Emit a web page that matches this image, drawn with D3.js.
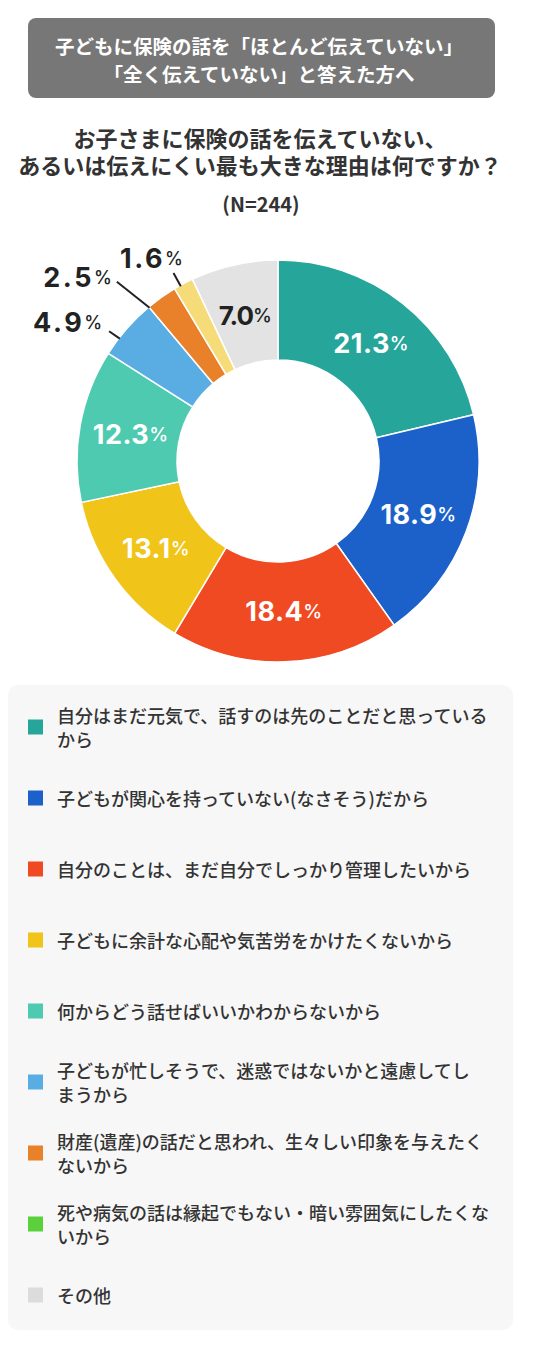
<!DOCTYPE html>
<html>
<head>
<meta charset="utf-8">
<script src="https://cdn.jsdelivr.net/npm/d3@7"></script>
<style>
  body { margin: 0; background: #fff; }
  text { font-family: "Noto Sans CJK JP", "Noto Sans", sans-serif; }
  text.num { font-family: Inter, Roboto, "Noto Sans", sans-serif; }
</style>
</head>
<body>
<div id="chart"></div>
<script>
// Data
const headerLines = ["子どもに保険の話を「ほとんど伝えていない」", "「全く伝えていない」と答えた方へ"];
const titleLines = ["お子さまに保険の話を伝えていない、", "あるいは伝えにくい最も大きな理由は何ですか？"];
const sampleLabel = "(N=244)";

const categories = [
  "自分はまだ元気で、話すのは先のことだと思っている\nから",
  "子どもが関心を持っていない(なさそう)だから",
  "自分のことは、まだ自分でしっかり管理したいから",
  "子どもに余計な心配や気苦労をかけたくないから",
  "何からどう話せばいいかわからないから",
  "子どもが忙しそうで、迷惑ではないかと遠慮してし\nまうから",
  "財産(遺産)の話だと思われ、生々しい印象を与えたく\nないから",
  "死や病気の話は縁起でもない・暗い雰囲気にしたくな\nいから",
  "その他"
];
const values = [21.3, 18.9, 18.4, 13.1, 12.3, 4.9, 2.5, 1.6, 7.0];
const sliceColors = ["#26a69a", "#1b61c9", "#f04a22", "#f0c418", "#4ecab0", "#5aade3", "#e8812a", "#f6dc78", "#e3e3e3"];
const legendColors = ["#26a69a", "#1b61c9", "#f04a22", "#f0c418", "#4ecab0", "#5aade3", "#e8812a", "#5ad13a", "#dcdcdc"];

// Layout
const W = 534, H = 1350;
const cx = 278, cy = 461, outerR = 201, innerR = 101, labelR = 150;

const svg = d3.select("#chart")
  .append("svg")
  .attr("width", W)
  .attr("height", H);

// Header box
svg.append("rect")
  .attr("x", 28).attr("y", 18)
  .attr("width", 467).attr("height", 80)
  .attr("rx", 8)
  .attr("fill", "#777777");

// multi-line text as one element with tspans
function multiline(x, y0, lineH, lines) {
  const t = svg.append("text")
    .attr("text-anchor", "middle")
    .attr("dominant-baseline", "central");
  t.selectAll("tspan")
    .data(lines)
    .enter().append("tspan")
    .attr("x", x)
    .attr("y", (d, i) => y0 + i * lineH)
    .text(d => d);
  return t;
}

multiline(259, 45, 28, headerLines)
  .attr("fill", "#fff")
  .attr("font-size", 19.5)
  .attr("font-weight", 700);

// Title
multiline(260, 137, 27, titleLines)
  .attr("fill", "#333")
  .attr("font-size", 22)
  .attr("font-weight", 700);

svg.append("text")
  .attr("x", 261).attr("y", 203)
  .attr("text-anchor", "middle")
  .attr("dominant-baseline", "central")
  .attr("fill", "#333")
  .attr("font-size", 20)
  .attr("font-weight", 700)
  .text(sampleLabel);

// Donut
const pie = d3.pie().sort(null).value(d => d);
const arcs = pie(values);
const arc = d3.arc().innerRadius(innerR).outerRadius(outerR);
const labelArc = d3.arc().innerRadius(labelR).outerRadius(labelR);

const g = svg.append("g").attr("transform", `translate(${cx},${cy})`);

g.selectAll("path")
  .data(arcs)
  .enter().append("path")
  .attr("d", arc)
  .attr("fill", (d, i) => sliceColors[i])
  .attr("stroke", "#fff")
  .attr("stroke-width", 1.5);

// polar helper, angle in radians clockwise from 12 o'clock
const polar = (r, a) => [r * Math.sin(a), -r * Math.cos(a)];
const deg = Math.PI / 180;

function addValueText(sel, v, numSize, pctSize, spacing) {
  sel.append("tspan")
    .attr("font-size", numSize)
    .attr("letter-spacing", spacing)
    .text(v.toFixed(1));
  sel.append("tspan")
    .attr("font-size", pctSize)
    .attr("font-weight", 500)
    .text("%");
}

// Inside labels (big slices)
arcs.forEach((d, i) => {
  if (values[i] < 5) return;
  const [x, y] = labelArc.centroid(d);
  const t = g.append("text")
    .attr("class", "num")
    .attr("x", x).attr("y", y)
    .attr("text-anchor", "middle")
    .attr("dominant-baseline", "central")
    .attr("font-weight", 700)
    .attr("fill", i === 8 ? "#222" : "#fff");
  addValueText(t, values[i], i === 8 ? 26 : 27, 19, i === 8 ? -1 : 0.5);
});

// Callouts (small slices)
const callouts = {
  5: {startShift: -3.5, endR: 213, endShift: -3.7, dx: -7, dy: -9, anchor: "end"},
  6: {startShift: -4.5, endR: 241, endShift: -6.5, dx: -5, dy: -5, anchor: "end"},
  7: {startShift: -1, endR: 215, endShift: -1, dx: -22, dy: -15, anchor: "middle"}
};

arcs.forEach((d, i) => {
  const c = callouts[i];
  if (!c) return;
  const mid = (d.startAngle + d.endAngle) / 2;
  const [x1, y1] = polar(outerR - 1, mid + c.startShift * deg);
  const [x2, y2] = polar(c.endR, mid + c.endShift * deg);
  g.append("line")
    .attr("x1", x1).attr("y1", y1)
    .attr("x2", x2).attr("y2", y2)
    .attr("stroke", "#222")
    .attr("stroke-width", 2);
  const t = g.append("text")
    .attr("class", "num")
    .attr("x", x2 + c.dx).attr("y", y2 + c.dy)
    .attr("text-anchor", c.anchor)
    .attr("dominant-baseline", "central")
    .attr("font-weight", 700)
    .attr("fill", "#222");
  addValueText(t, values[i], 27, 18, 2.5);
});

// Legend panel
svg.append("rect")
  .attr("x", 8).attr("y", 685)
  .attr("width", 505).attr("height", 645)
  .attr("rx", 10)
  .attr("fill", "#f7f7f7");

const legend = svg.selectAll(".legend")
  .data(categories)
  .enter().append("g")
  .attr("class", "legend")
  .attr("transform", (d, i) => `translate(0,${727 + i * 71})`);

legend.append("rect")
  .attr("x", 28).attr("y", -7.5)
  .attr("width", 15).attr("height", 15)
  .attr("fill", (d, i) => legendColors[i]);

legend.each(function(d) {
  const lines = d.split("\n");
  const lineH = 24;
  const top = -(lines.length - 1) * lineH / 2;
  const t = d3.select(this).append("text")
    .attr("dominant-baseline", "central")
    .attr("fill", "#333")
    .attr("font-size", 18)
    .attr("font-weight", 500);
  t.selectAll("tspan")
    .data(lines)
    .enter().append("tspan")
    .attr("x", 57)
    .attr("y", (l, j) => top + j * lineH)
    .text(l => l);
});
</script>
</body>
</html>
